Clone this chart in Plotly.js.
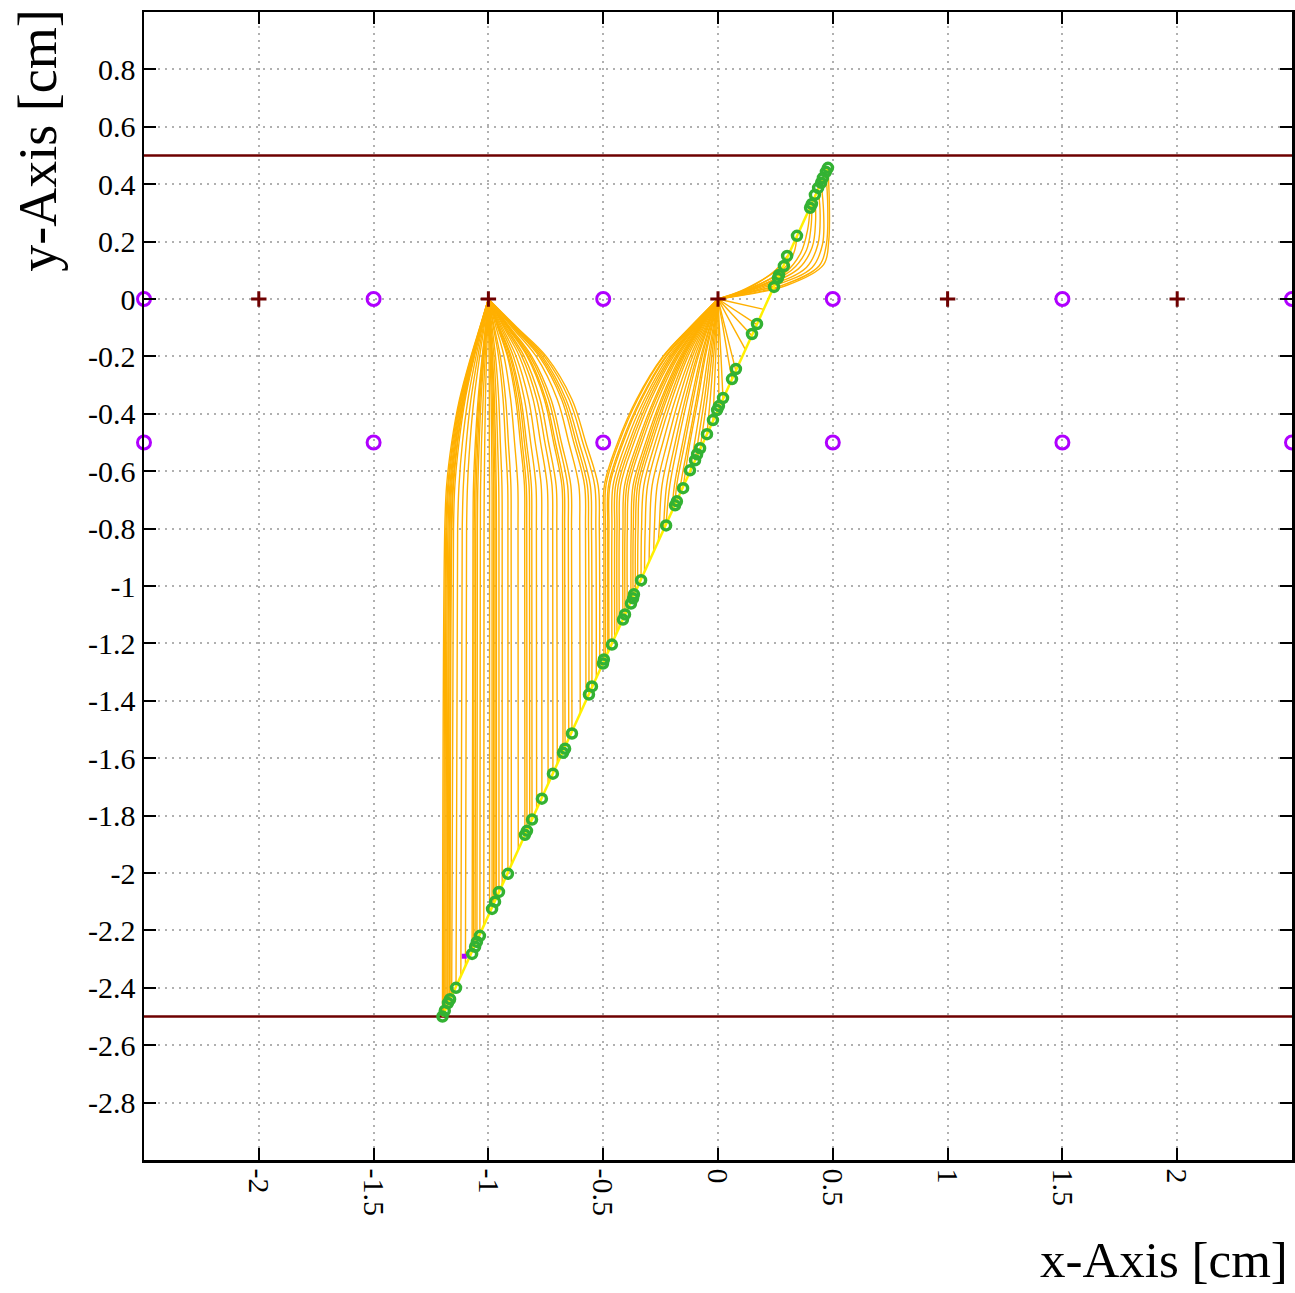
<!DOCTYPE html>
<html><head><meta charset="utf-8">
<script src="https://cdn.plot.ly/plotly-3.0.1.min.js"></script>
<style>html,body{margin:0;padding:0;background:#fff}</style>
</head><body><div id="chart" style="width:1295px;height:1293px"></div>
<script>
// ---- data ----
const X_RANGE = [-2.5, 2.5];
const Y_RANGE = [-3, 1];
const X_TICKS = [-2, -1.5, -1, -0.5, 0, 0.5, 1, 1.5, 2];
const X_TICK_TEXT = ["-2", "-1.5", "-1", "-0.5", "0", "0.5", "1", "1.5", "2"];
const Y_TICKS = [-2.8, -2.6, -2.4, -2.2, -2, -1.8, -1.6, -1.4, -1.2, -1, -0.8, -0.6, -0.4, -0.2, 0, 0.2, 0.4, 0.6, 0.8];
const Y_TICK_TEXT = ["-2.8", "-2.6", "-2.4", "-2.2", "-2", "-1.8", "-1.6", "-1.4", "-1.2", "-1", "-0.8", "-0.6", "-0.4", "-0.2", "0", "0.2", "0.4", "0.6", "0.8"];

const PLANE_Y = [0.5, -2.5];
const ANODE_X = [-2, -1, 0, 1, 2];
const ANODE_Y = [0, 0, 0, 0, 0];
const CATHODE_X = [-2.5, -1.5, -0.5, 0.5, 1.5, 2.5, -2.5, -1.5, -0.5, 0.5, 1.5, 2.5];
const CATHODE_Y = [0, 0, 0, 0, 0, 0, -0.5, -0.5, -0.5, -0.5, -0.5, -0.5];

const TRACK_X = [-1.2, 0.479];
const TRACK_Y = [-2.5, 0.457];

const CLUSTER_X = [-1.20, -1.19, -1.176, -1.167, -1.141, -1.071, -1.058, -1.050, -1.037, -0.984, -0.971, -0.954, -0.915, -0.841, -0.832, -0.810, -0.767, -0.719, -0.675, -0.666, -0.636, -0.562, -0.549, -0.501, -0.497, -0.462, -0.414, -0.405, -0.379, -0.370, -0.366, -0.335, -0.226, -0.187, -0.179, -0.152, -0.122, -0.100, -0.091, -0.078, -0.048, -0.022, -0.004, 0.004, 0.022, 0.061, 0.078, 0.148, 0.170, 0.244, 0.261, 0.266, 0.287, 0.301, 0.344, 0.401, 0.409, 0.422, 0.436, 0.449, 0.457, 0.470, 0.479];
const CLUSTER_Y = [-2.50, -2.48, -2.453, -2.44, -2.40, -2.282, -2.257, -2.240, -2.219, -2.125, -2.10, -2.066, -2.003, -1.867, -1.853, -1.814, -1.741, -1.654, -1.581, -1.567, -1.514, -1.378, -1.350, -1.270, -1.256, -1.204, -1.117, -1.099, -1.061, -1.043, -1.029, -0.980, -0.789, -0.719, -0.705, -0.659, -0.597, -0.562, -0.541, -0.520, -0.471, -0.422, -0.387, -0.373, -0.345, -0.279, -0.244, -0.122, -0.087, 0.042, 0.073, 0.084, 0.115, 0.150, 0.220, 0.318, 0.331, 0.363, 0.387, 0.405, 0.422, 0.443, 0.457];

// drift lines ending on the wire at x=-1 : start point + x at the shared heights
const LEFT_LEVELS = [-0.8, -0.65, -0.5, -0.35, -0.2, -0.1, 0];
const LEFT_START_X = [-1.20, -1.195, -1.19, -1.185, -1.18, -1.176, -1.17, -1.167, -1.16, -1.141, -1.12, -1.10, -1.071, -1.065, -1.058, -1.05, -1.037, -1.02,
  -0.995, -0.984, -0.977, -0.971, -0.965, -0.954, -0.94, -0.915, -0.90, -0.87, -0.841, -0.832, -0.82, -0.81, -0.79, -0.767, -0.74, -0.719, -0.70, -0.675, -0.666, -0.65, -0.636, -0.60, -0.575, -0.562, -0.549, -0.53, -0.515];
const LEFT_START_Y = [-2.50, -2.491, -2.482, -2.474, -2.465, -2.458, -2.447, -2.442, -2.43, -2.396, -2.359, -2.324, -2.273, -2.262, -2.25, -2.236, -2.213, -2.183,
  -2.139, -2.12, -2.108, -2.097, -2.086, -2.067, -2.042, -1.998, -1.972, -1.919, -1.868, -1.852, -1.831, -1.814, -1.778, -1.738, -1.69, -1.653, -1.62, -1.576, -1.56, -1.532, -1.507, -1.444, -1.40, -1.377, -1.354, -1.321, -1.294];
const LEFT_PATH_X = [
  [-1.190, -1.182, -1.160, -1.126, -1.076, -1.038, -1],
  [-1.185, -1.177, -1.156, -1.123, -1.074, -1.037, -1],
  [-1.181, -1.173, -1.152, -1.120, -1.072, -1.036, -1],
  [-1.176, -1.168, -1.148, -1.117, -1.070, -1.035, -1],
  [-1.171, -1.164, -1.144, -1.113, -1.068, -1.034, -1],
  [-1.167, -1.160, -1.141, -1.111, -1.067, -1.033, -1],
  [-1.162, -1.155, -1.136, -1.107, -1.065, -1.032, -1],
  [-1.159, -1.152, -1.134, -1.105, -1.063, -1.032, -1],
  [-1.152, -1.146, -1.128, -1.101, -1.061, -1.030, -1],
  [-1.134, -1.128, -1.113, -1.089, -1.054, -1.027, -1],
  [-1.114, -1.109, -1.096, -1.076, -1.046, -1.023, -1],
  [-1.095, -1.091, -1.080, -1.063, -1.038, -1.019, -1],
  [-1.067, -1.065, -1.057, -1.045, -1.027, -1.013, -1],
  [-1.062, -1.059, -1.052, -1.041, -1.025, -1.012, -1],
  [-1.055, -1.053, -1.046, -1.037, -1.022, -1.011, -1],
  [-1.048, -1.046, -1.040, -1.032, -1.019, -1.010, -1],
  [-1.035, -1.034, -1.030, -1.023, -1.014, -1.007, -1],
  [-1.019, -1.018, -1.016, -1.013, -1.008, -1.004, -1],
  [-0.995, -0.995, -0.996, -0.996, -0.997, -0.999, -1],
  [-0.984, -0.984, -0.986, -0.988, -0.992, -0.996, -1],
  [-0.977, -0.977, -0.980, -0.983, -0.988, -0.994, -1],
  [-0.971, -0.971, -0.975, -0.978, -0.985, -0.992, -1],
  [-0.965, -0.966, -0.969, -0.974, -0.982, -0.991, -1],
  [-0.954, -0.955, -0.960, -0.966, -0.976, -0.988, -1],
  [-0.940, -0.941, -0.948, -0.955, -0.969, -0.984, -1],
  [-0.915, -0.916, -0.926, -0.936, -0.956, -0.978, -1],
  [-0.901, -0.902, -0.913, -0.925, -0.948, -0.974, -1],
  [-0.871, -0.872, -0.886, -0.903, -0.932, -0.966, -1],
  [-0.842, -0.843, -0.861, -0.881, -0.917, -0.959, -1],
  [-0.833, -0.835, -0.853, -0.874, -0.913, -0.956, -1],
  [-0.821, -0.823, -0.843, -0.865, -0.906, -0.953, -1],
  [-0.811, -0.813, -0.834, -0.858, -0.901, -0.951, -1],
  [-0.791, -0.793, -0.816, -0.843, -0.891, -0.945, -1],
  [-0.768, -0.770, -0.796, -0.825, -0.879, -0.939, -1],
  [-0.741, -0.744, -0.773, -0.805, -0.865, -0.932, -1],
  [-0.720, -0.723, -0.754, -0.789, -0.854, -0.927, -1],
  [-0.702, -0.705, -0.738, -0.775, -0.844, -0.922, -1],
  [-0.677, -0.680, -0.716, -0.756, -0.831, -0.916, -1],
  [-0.668, -0.671, -0.708, -0.750, -0.826, -0.913, -1],
  [-0.652, -0.655, -0.694, -0.738, -0.818, -0.909, -1],
  [-0.638, -0.641, -0.682, -0.727, -0.811, -0.905, -1],
  [-0.602, -0.606, -0.650, -0.700, -0.792, -0.896, -1],
  [-0.577, -0.581, -0.628, -0.681, -0.779, -0.890, -1],
  [-0.564, -0.569, -0.617, -0.672, -0.772, -0.886, -1],
  [-0.551, -0.556, -0.605, -0.662, -0.765, -0.883, -1],
  [-0.532, -0.537, -0.589, -0.648, -0.756, -0.878, -1],
  [-0.517, -0.522, -0.576, -0.636, -0.748, -0.874, -1]
];

// drift lines ending on the wire at x=0 (start point first)
const RIGHT_PATH_X = [
  [-0.497, -0.497, -0.495, -0.437, -0.355, -0.240, -0.124, 0],
  [-0.49, -0.49, -0.488, -0.431, -0.350, -0.237, -0.123, 0],
  [-0.48, -0.48, -0.477, -0.419, -0.338, -0.228, -0.119, 0],
  [-0.475, -0.475, -0.471, -0.413, -0.333, -0.224, -0.116, 0],
  [-0.462, -0.462, -0.457, -0.400, -0.321, -0.215, -0.112, 0],
  [-0.45, -0.45, -0.446, -0.387, -0.311, -0.207, -0.108, 0],
  [-0.44, -0.44, -0.435, -0.377, -0.301, -0.201, -0.105, 0],
  [-0.43, -0.43, -0.424, -0.366, -0.292, -0.194, -0.101, 0],
  [-0.414, -0.414, -0.407, -0.350, -0.278, -0.185, -0.096, 0],
  [-0.405, -0.405, -0.397, -0.341, -0.271, -0.179, -0.094, 0],
  [-0.395, -0.395, -0.387, -0.331, -0.261, -0.173, -0.090, 0],
  [-0.379, -0.378, -0.370, -0.315, -0.248, -0.164, -0.086, 0],
  [-0.370, -0.369, -0.360, -0.306, -0.241, -0.158, -0.083, 0],
  [-0.36, -0.359, -0.350, -0.297, -0.232, -0.153, -0.080, 0],
  [-0.35, -0.348, -0.340, -0.287, -0.224, -0.147, -0.077, 0],
  [-0.335, -0.333, -0.323, -0.273, -0.212, -0.139, -0.073, 0],
  [-0.32, -0.317, -0.307, -0.259, -0.201, -0.131, -0.068, 0],
  [-0.30, -0.297, -0.287, -0.240, -0.186, -0.120, -0.063, 0],
  [-0.28, -0.277, -0.265, -0.221, -0.171, -0.111, -0.057, 0],
  [-0.26, -0.256, -0.244, -0.203, -0.156, -0.101, -0.052, 0],
  [-0.24, -0.238, -0.224, -0.186, -0.143, -0.092, -0.048, 0],
  [-0.226, -0.210, -0.174, -0.133, -0.086, -0.044, 0],
  [-0.20, -0.190, -0.154, -0.116, -0.075, -0.038, 0],
  [-0.187, -0.180, -0.144, -0.108, -0.069, -0.036, 0],
  [-0.165, -0.163, -0.129, -0.094, -0.060, -0.031, 0],
  [-0.152, -0.122, -0.087, -0.055, -0.027, 0],
  [-0.122, -0.102, -0.071, -0.043, -0.021, 0],
  [-0.10, -0.088, -0.059, -0.035, -0.017, 0],
  [-0.078, -0.074, -0.048, -0.027, -0.013, 0],
  [-0.048, -0.034, -0.019, -0.009, 0],
  [-0.022, -0.018, -0.010, -0.005, 0],
  [0.004, 0.004, 0.002, 0.001, 0],
  [0.022, 0.013, 0.006, 0],
  [0.061, 0.043, 0.022, 0],
  [0.078, 0.062, 0.031, 0],
  [0.12, 0.067, 0],
  [0.148, 0],
  [0.170, 0],
  [0.20, 0],
  [0.244, 0],
  [0.261, 0.13, 0],
  [0.266, 0.13, 0],
  [0.287, 0.2, 0.1, 0],
  [0.301, 0.25, 0.16, 0.07, 0],
  [0.344, 0.33, 0.28, 0.18, 0.08, 0],
  [0.401, 0.39, 0.36, 0.29, 0.15, 0],
  [0.409, 0.405, 0.385, 0.32, 0.17, 0],
  [0.422, 0.425, 0.41, 0.35, 0.19, 0],
  [0.436, 0.445, 0.435, 0.385, 0.21, 0],
  [0.449, 0.46, 0.455, 0.41, 0.24, 0],
  [0.470, 0.478, 0.472, 0.44, 0.27, 0],
  [0.479, 0.485, 0.482, 0.46, 0.30, 0]
];
const RIGHT_PATH_Y = [
  [-1.263, -0.8, -0.65, -0.5, -0.35, -0.2, -0.1, 0],
  [-1.25, -0.8, -0.65, -0.5, -0.35, -0.2, -0.1, 0],
  [-1.233, -0.8, -0.65, -0.5, -0.35, -0.2, -0.1, 0],
  [-1.224, -0.8, -0.65, -0.5, -0.35, -0.2, -0.1, 0],
  [-1.201, -0.8, -0.65, -0.5, -0.35, -0.2, -0.1, 0],
  [-1.18, -0.8, -0.65, -0.5, -0.35, -0.2, -0.1, 0],
  [-1.162, -0.8, -0.65, -0.5, -0.35, -0.2, -0.1, 0],
  [-1.145, -0.8, -0.65, -0.5, -0.35, -0.2, -0.1, 0],
  [-1.117, -0.8, -0.65, -0.5, -0.35, -0.2, -0.1, 0],
  [-1.101, -0.8, -0.65, -0.5, -0.35, -0.2, -0.1, 0],
  [-1.083, -0.8, -0.65, -0.5, -0.35, -0.2, -0.1, 0],
  [-1.055, -0.8, -0.65, -0.5, -0.35, -0.2, -0.1, 0],
  [-1.039, -0.8, -0.65, -0.5, -0.35, -0.2, -0.1, 0],
  [-1.022, -0.8, -0.65, -0.5, -0.35, -0.2, -0.1, 0],
  [-1.004, -0.8, -0.65, -0.5, -0.35, -0.2, -0.1, 0],
  [-0.978, -0.8, -0.65, -0.5, -0.35, -0.2, -0.1, 0],
  [-0.951, -0.8, -0.65, -0.5, -0.35, -0.2, -0.1, 0],
  [-0.916, -0.8, -0.65, -0.5, -0.35, -0.2, -0.1, 0],
  [-0.881, -0.8, -0.65, -0.5, -0.35, -0.2, -0.1, 0],
  [-0.846, -0.8, -0.65, -0.5, -0.35, -0.2, -0.1, 0],
  [-0.81, -0.8, -0.65, -0.5, -0.35, -0.2, -0.1, 0],
  [-0.786, -0.65, -0.5, -0.35, -0.2, -0.1, 0],
  [-0.74, -0.65, -0.5, -0.35, -0.2, -0.1, 0],
  [-0.717, -0.65, -0.5, -0.35, -0.2, -0.1, 0],
  [-0.678, -0.65, -0.5, -0.35, -0.2, -0.1, 0],
  [-0.656, -0.5, -0.35, -0.2, -0.1, 0],
  [-0.603, -0.5, -0.35, -0.2, -0.1, 0],
  [-0.564, -0.5, -0.35, -0.2, -0.1, 0],
  [-0.525, -0.5, -0.35, -0.2, -0.1, 0],
  [-0.472, -0.35, -0.2, -0.1, 0],
  [-0.427, -0.35, -0.2, -0.1, 0],
  [-0.381, -0.35, -0.2, -0.1, 0],
  [-0.349, -0.2, -0.1, 0],
  [-0.281, -0.2, -0.1, 0],
  [-0.251, -0.2, -0.1, 0],
  [-0.177, -0.1, 0],
  [-0.128, 0],
  [-0.089, 0],
  [-0.036, 0],
  [0.042, 0],
  [0.073, 0.03, 0],
  [0.084, 0.035, 0],
  [0.115, 0.07, 0.028, 0],
  [0.150, 0.10, 0.05, 0.016, 0],
  [0.220, 0.16, 0.10, 0.05, 0.017, 0],
  [0.318, 0.24, 0.16, 0.09, 0.035, 0],
  [0.331, 0.25, 0.17, 0.10, 0.04, 0],
  [0.363, 0.27, 0.18, 0.105, 0.042, 0],
  [0.387, 0.29, 0.19, 0.11, 0.043, 0],
  [0.405, 0.30, 0.19, 0.11, 0.045, 0],
  [0.443, 0.32, 0.19, 0.115, 0.045, 0],
  [0.457, 0.33, 0.20, 0.12, 0.048, 0]
];

const STRAY_X = [-1.105];
const STRAY_Y = [-2.29];

// ---- colours / styles ----
const ORANGE = '#ffb000', YELLOW = '#fff000', GREEN = '#33b233', PURPLE = '#b000ff', MAROON = '#6e0000';
const FONT = 'Liberation Serif, Times New Roman, serif';

const traces = [];
PLANE_Y.forEach(py => traces.push({
  type: 'scatter', mode: 'lines', x: X_RANGE, y: [py, py],
  line: {color: MAROON, width: 2.5}, hoverinfo: 'skip'
}));
LEFT_START_X.forEach((x0, i) => traces.push({
  type: 'scatter', mode: 'lines',
  x: [x0].concat(LEFT_PATH_X[i]), y: [LEFT_START_Y[i]].concat(LEFT_LEVELS),
  line: {color: ORANGE, width: 1.4, shape: 'spline', smoothing: 1}, hoverinfo: 'skip'
}));
RIGHT_PATH_X.forEach((xs, i) => traces.push({
  type: 'scatter', mode: 'lines', x: xs, y: RIGHT_PATH_Y[i],
  line: {color: ORANGE, width: 1.4, shape: 'spline', smoothing: 1}, hoverinfo: 'skip'
}));
traces.push({type: 'scatter', mode: 'lines', x: TRACK_X, y: TRACK_Y, line: {color: YELLOW, width: 2.5}});
traces.push({type: 'scatter', mode: 'markers', x: STRAY_X, y: STRAY_Y,
  marker: {symbol: 'square', size: 5, color: PURPLE}});
traces.push({type: 'scatter', mode: 'markers', x: CLUSTER_X, y: CLUSTER_Y,
  marker: {symbol: 'circle-open', size: 9, color: GREEN, line: {color: GREEN, width: 3.5}}});
traces.push({type: 'scatter', mode: 'markers', x: CATHODE_X, y: CATHODE_Y, cliponaxis: false,
  marker: {symbol: 'circle-open', size: 13, color: PURPLE, line: {color: PURPLE, width: 3}}});
traces.push({type: 'scatter', mode: 'markers', x: ANODE_X, y: ANODE_Y, cliponaxis: false,
  marker: {symbol: 'cross-thin', size: 11, color: MAROON, line: {color: MAROON, width: 3}}});

const axisCommon = {
  showline: true, linecolor: '#000', linewidth: 2.5, mirror: 'ticks',
  ticks: 'inside', ticklen: 12, tickwidth: 2, tickcolor: '#000',
  showgrid: true, gridcolor: '#b0b0b0', griddash: '2px,5px', gridwidth: 2,
  zeroline: false, tickfont: {family: FONT, size: 30, color: '#000'}
};

const layout = {
  width: 1295, height: 1293,
  margin: {l: 144, r: 3, t: 12, b: 133},
  paper_bgcolor: '#fff', plot_bgcolor: '#fff',
  showlegend: false,
  xaxis: Object.assign({}, axisCommon, {range: X_RANGE, tickmode: 'array', tickvals: X_TICKS, ticktext: X_TICK_TEXT, tickangle: 90}),
  yaxis: Object.assign({}, axisCommon, {range: Y_RANGE, tickmode: 'array', tickvals: Y_TICKS, ticktext: Y_TICK_TEXT}),
  annotations: [
    {text: 'x-Axis [cm]', xref: 'paper', yref: 'paper', x: 0.998, y: -0.0871, xanchor: 'right', yanchor: 'middle',
     showarrow: false, font: {family: FONT, size: 51, color: '#000'}},
    {text: 'y-Axis [cm]', xref: 'paper', yref: 'paper', x: -0.092, y: 1.004, xanchor: 'center', yanchor: 'top',
     textangle: -90, showarrow: false, font: {family: FONT, size: 54, color: '#000'}}
  ]
};

Plotly.newPlot('chart', traces, layout, {displayModeBar: false, staticPlot: true});
</script>
</body></html>
